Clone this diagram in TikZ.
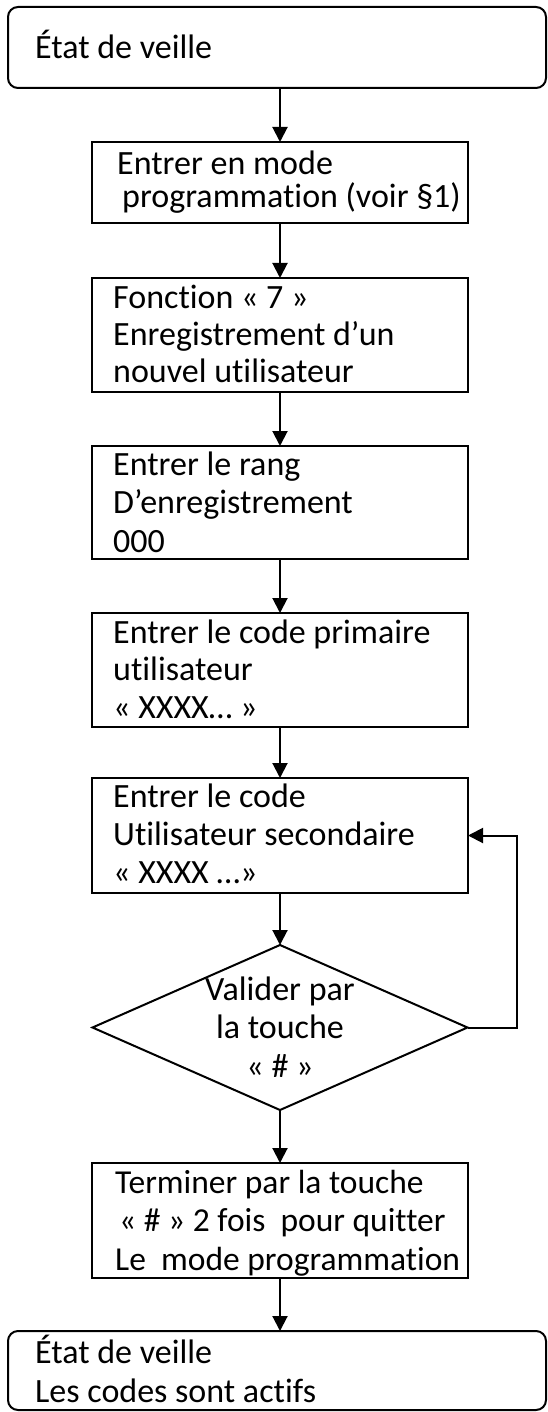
\documentclass[tikz,border=0pt]{standalone}
\usepackage{fontspec}
\setmainfont{Carlito}[Ligatures={NoCommon}]
\usetikzlibrary{arrows.meta,shapes.geometric}
\begin{document}
\begin{tikzpicture}[x=1pt,y=-1pt,
  box/.style={draw,line width=2pt,inner sep=0pt,outer sep=0pt,anchor=north west},
  rbox/.style={box,rounded corners=10pt},
  txt/.style={anchor=base west,inner sep=0pt,align=left},
  flow/.style={line width=2pt,-{Triangle[length=15pt,width=15pt]}}
]
\useasboundingbox (0,0) rectangle (547,1412);
% boxes
\node[rbox,minimum width=538pt,minimum height=81pt] (b1) at (8,7) {};
\node[box,minimum width=376pt,minimum height=81pt] (b2) at (92,142) {};
\node[box,minimum width=376pt,minimum height=114pt] (b3) at (92,278) {};
\node[box,minimum width=376pt,minimum height=113pt] (b4) at (92,446) {};
\node[box,minimum width=376pt,minimum height=114pt] (b5) at (92,613) {};
\node[box,minimum width=376pt,minimum height=115pt] (b6) at (92,778) {};
\node[draw,diamond,line width=2pt,inner sep=0pt,outer sep=0pt,
      minimum width=375pt,minimum height=165pt] (d) at (280,1027.5) {};
\node[box,minimum width=376pt,minimum height=115pt] (b7) at (92,1163) {};
\node[rbox,minimum width=538pt,minimum height=79pt] (b8) at (8,1331) {};
% texts (anchored at the baseline of the last line)
\node[txt,font=\fontsize{34}{38}\selectfont] (t1) at (35,59) {État de veille};
\node[txt,font=\fontsize{34}{33}\selectfont] (t2) at (117,208) {Entrer en mode\\\hspace*{5pt}programmation (voir §1)};
\node[txt,font=\fontsize{34}{37}\selectfont] (t3) at (113,382) {Fonction « 7 »\\Enregistrement d’un\\nouvel utilisateur};
\node[txt,font=\fontsize{34}{38.5}\selectfont] (t4) at (113,552) {Entrer le rang\\D’enregistrement\\000};
\node[txt,font=\fontsize{34}{37.5}\selectfont] (t5) at (113,718) {Entrer le code primaire\\utilisateur\\« XXXX… »};
\node[txt,font=\fontsize{34}{38}\selectfont] (t6) at (113,883) {Entrer le code\\Utilisateur secondaire\\« XXXX …»};
\node[anchor=base,inner sep=0pt,align=center,font=\fontsize{34}{38.5}\selectfont] (t7) at (280,1077) {Valider par\\la touche\\« \# »};
\node[txt,font=\fontsize{33.5}{38.5}\selectfont] (t8) at (115,1270) {Terminer par la touche\\\hspace*{4pt}« \# » 2 fois~ pour quitter\\Le~ mode programmation};
\node[txt,font=\fontsize{34}{39}\selectfont] (t9) at (35,1402) {État de veille\\Les codes sont actifs};
% connectors
\draw[flow] (b2.north |- b1.south) -- (b2.north);
\draw[flow] (b2.south) -- (b3.north);
\draw[flow] (b3.south) -- (b4.north);
\draw[flow] (b4.south) -- (b5.north);
\draw[flow] (b5.south) -- (b6.north);
\draw[flow] (b6.south) -- (d.north);
\draw[flow] (d.south) -- (b7.north);
\draw[flow] (b7.south) -- (b7.south |- b8.north);
\draw[flow] (d.east) -- ++(49,0) |- (b6.east);
\end{tikzpicture}
\end{document}
